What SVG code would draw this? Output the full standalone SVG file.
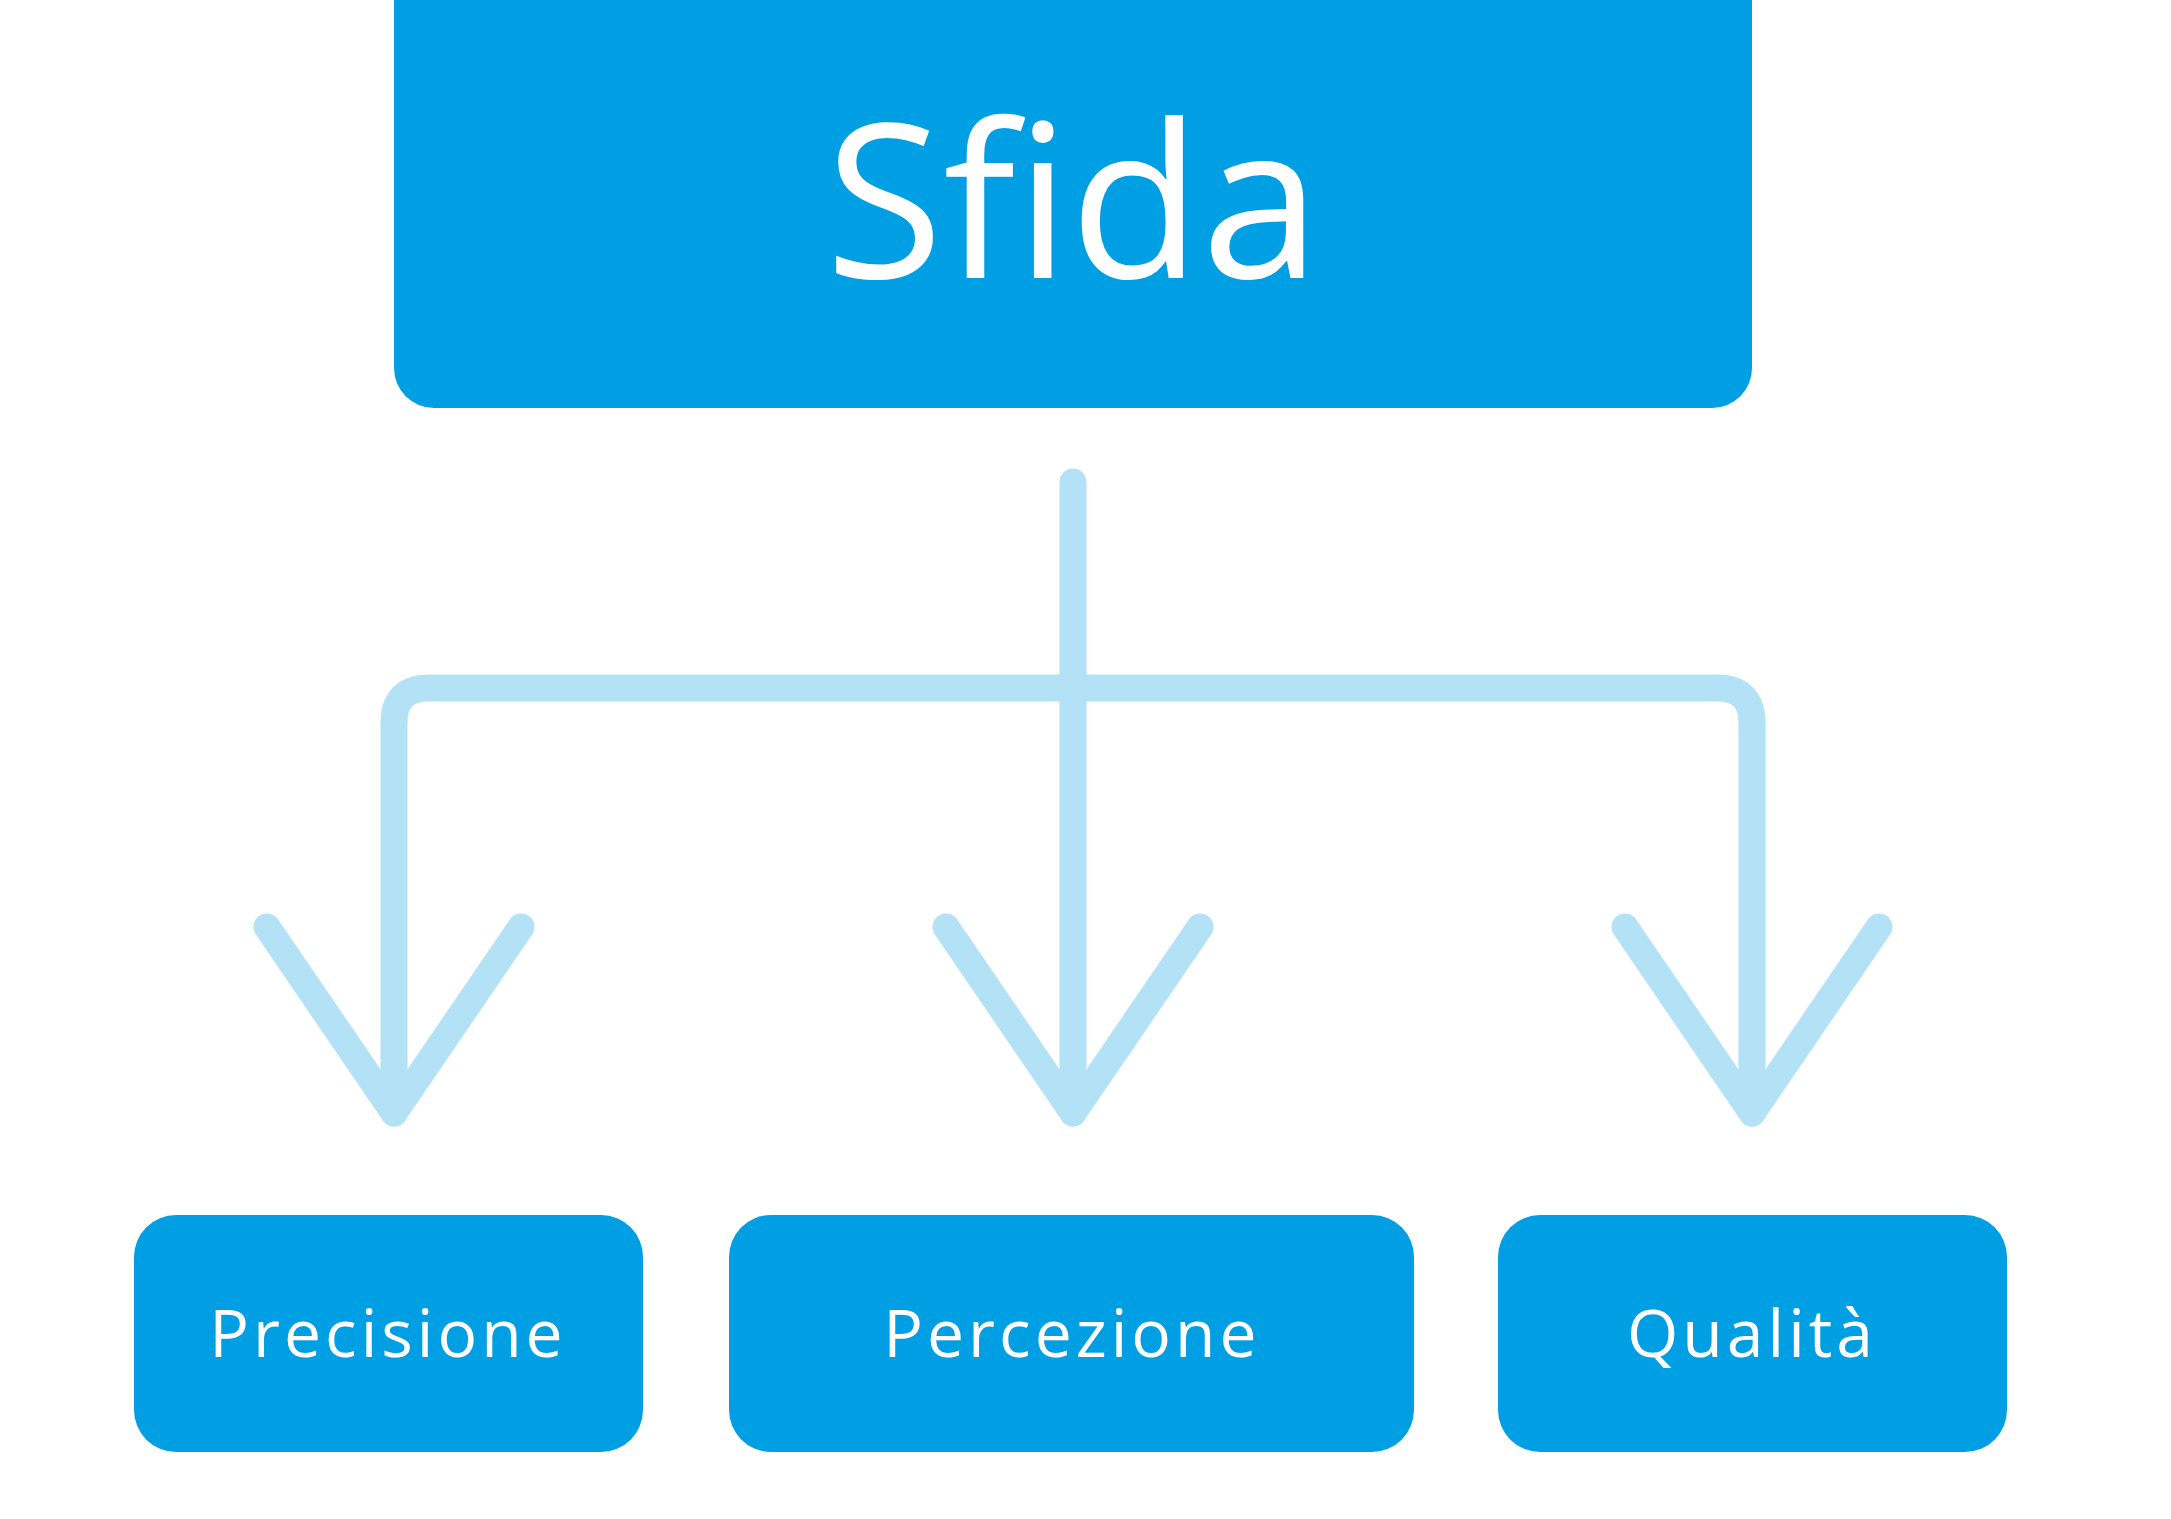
<svg xmlns="http://www.w3.org/2000/svg" width="2171" height="1519" viewBox="0 0 2171 1519">
<style>
.box{fill:#009fe3}
.lbl{fill:#fff;font-family:"Open Sans","Liberation Sans",sans-serif;text-anchor:middle}
.small{font-size:66px;letter-spacing:4px}
.con{fill:none;stroke:#b3e1f6;stroke-width:27;stroke-linecap:round;stroke-linejoin:round}
</style>
<rect width="2171" height="1519" fill="#fff"/>
<g id="sfida"><rect class="box" x="394" y="-40" width="1358" height="448" rx="40"/><text class="lbl" x="1073" y="278" font-size="215">Sfida</text></g>
<g id="connectors">
<path class="con" d="M1073 482 V1113"/>
<path class="con" d="M394 1113 V723 Q394 688 429 688 H1717 Q1752 688 1752 723 V1113"/>
<path class="con" d="M267 927 L394 1113 L521 927"/>
<path class="con" d="M946 927 L1073 1113 L1200 927"/>
<path class="con" d="M1625 927 L1752 1113 L1879 927"/>
</g>
<g id="precisione"><rect class="box" x="134" y="1215" width="509" height="237" rx="42"/><text class="lbl small" x="388" y="1357">Precisione</text></g>
<g id="percezione"><rect class="box" x="729" y="1215" width="685" height="237" rx="42"/><text class="lbl small" x="1072" y="1357">Percezione</text></g>
<g id="qualita"><rect class="box" x="1498" y="1215" width="509" height="237" rx="42"/><text class="lbl small" x="1752" y="1357">Qualità</text></g>
</svg>
